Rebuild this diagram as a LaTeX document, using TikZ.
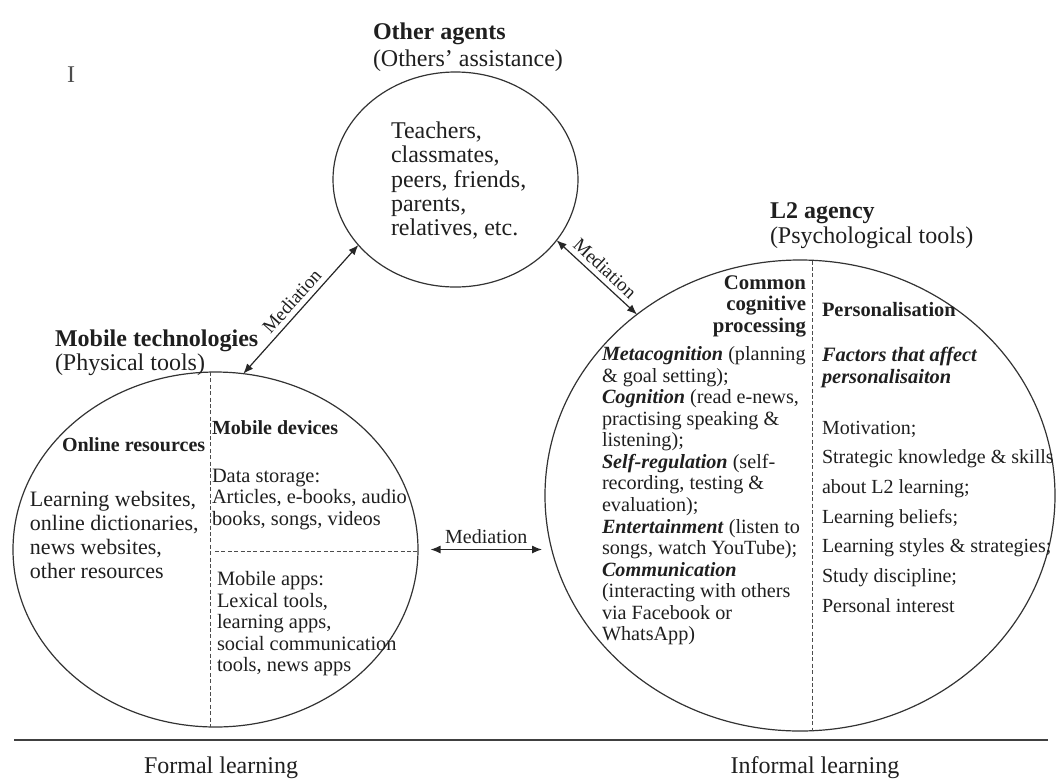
\documentclass[tikz,border=0pt]{standalone}
\usepackage{fontspec}
\setmainfont{Liberation Serif}
\usetikzlibrary{shapes.geometric,arrows.meta}
\newcommand\fz[2]{\fontsize{#1}{#2}\selectfont}
\tikzset{
 bubble/.style={ellipse, draw=black!80, line width=0.6pt, inner sep=0pt, outer sep=0pt},
 txt/.style={inner sep=0pt, outer sep=0pt, align=left, text=black!88},
 divider/.style={draw=black!70, line width=0.5pt, dash pattern=on 2pt off 1.2pt},
 medarrow/.style={draw=black!85, line width=0.6pt, {Latex[length=5pt,width=4pt]}-{Latex[length=5pt,width=4pt]}},
 medlabel/.style={font=\fz{9.5}{10}, text=black!88, inner sep=2.5pt},
}
\begin{document}
\begin{tikzpicture}[x=0.5pt,y=-0.5pt]
\path[use as bounding box] (0,0) rectangle (1056,783);

% stray mark
\node[txt, font=\fz{12}{13}, text=black!70] (cursor) at (71,75) {I};

% ellipses
\node[bubble, minimum width=122.5pt, minimum height=107.5pt] (T) at (455.5,179.5) {};
\node[bubble, minimum width=202.5pt, minimum height=177.5pt] (L) at (215.5,549.5) {};
\node[bubble, minimum width=255pt, minimum height=235.5pt] (R) at (800,495.5) {};

% titles
\node[txt, anchor=north west, font=\fz{12}{13.5}] (Ttitle) at (373,22.6)
  {\textbf{Other agents}\\(Others’ assistance)};
\node[txt, anchor=north west, font=\fz{12}{12}] (Ltitle) at (55,329.6)
  {\textbf{Mobile technologies}\\(Physical tools)};
\node[txt, anchor=north west, font=\fz{12}{12.5}] (Rtitle) at (770,202.6)
  {\textbf{L2 agency}\\(Psychological tools)};

% top circle text
\node[txt, anchor=north west, font=\fz{12}{12.1}] (Ttext) at (391,122)
  {Teachers,\\classmates,\\peers, friends,\\parents,\\relatives, etc.};

% left circle
\draw[divider] (210,372) -- (210,727);
\draw[divider] (215,551) -- (417,551);
\node[txt, anchor=west, font=\fz{10}{11}\bfseries] (online) at (62,445) {Online resources};
\node[txt, anchor=west, font=\fz{10}{11}\bfseries] (devices) at (212,428) {Mobile devices};
\node[txt, anchor=north west, font=\fz{11}{12}] (onlinetext) at (30,491)
  {Learning websites,\\online dictionaries,\\news websites,\\other resources};
\node[txt, anchor=north west, font=\fz{10.2}{10.75}] (storage) at (212,468.7)
  {Data storage:\\Articles, e-books, audio\\books, songs, videos};
\node[txt, anchor=north west, font=\fz{10.2}{10.75}] (apps) at (217,571.7)
  {Mobile apps:\\Lexical tools,\\learning apps,\\social communication\\tools, news apps};

% right circle
\draw[divider] (812,260.5) -- (812,730.5);
\node[txt, anchor=north east, align=right, font=\fz{10.4}{10.75}\bfseries] (common) at (806,275.5)
  {Common\\cognitive\\processing};
\node[txt, anchor=west, font=\fz{10.2}{11}\bfseries] (personal) at (822,310) {Personalisation};
\node[txt, anchor=north west, font=\fz{10.1}{10.77}] (cogtext) at (602,346.7)
  {\textbf{\textit{Metacognition}} (planning\\
   \& goal setting);\\
   \textbf{\textit{Cognition}} (read e-news,\\
   practising speaking \&\\
   listening);\\
   \textbf{\textit{Self-regulation}} (self-\\
   recording, testing \&\\
   evaluation);\\
   \textbf{\textit{Entertainment}} (listen to\\
   songs, watch YouTube);\\
   \textbf{\textit{Communication}}\\
   (interacting with others\\
   via Facebook or\\
   WhatsApp)};
\node[txt, anchor=north west, font=\fz{10.2}{11}\bfseries\itshape] (factors) at (822,346.7)
  {Factors that affect\\personalisaiton};
\node[txt, anchor=north west, font=\fz{10}{14.85}] (factorlist) at (822,420.8)
  {Motivation;\\Strategic knowledge \& skills\\about L2 learning;\\Learning beliefs;\\Learning styles \& strategies;\\Study discipline;\\Personal interest};

% mediation connectors
\draw[medarrow] (L.81.6) -- node[medlabel, sloped, above] (med1) {Mediation} (T.214.4);
\draw[medarrow] (T.-31.5) -- node[medlabel, sloped, above] (med2) {Mediation} (R.132.6);
\coordinate (mL) at ([xshift=6.25pt]L.east);
\coordinate (mRx) at (L.east -| R.west);
\coordinate (mR) at ([xshift=-1.5pt]mRx);
\draw[medarrow] (mL) -- node[medlabel, above, font=\fz{10}{11}, inner sep=2.5pt] (med3) {Mediation} (mR);

% bottom rule
\draw[line width=1.1pt, draw=black!75] (14,740) -- (1048,740);
\node[txt, font=\fz{12}{13}] (formal) at (221,768) {Formal learning};
\node[txt, font=\fz{12}{13}] (informal) at (815,768) {Informal learning};
\end{tikzpicture}
\end{document}
